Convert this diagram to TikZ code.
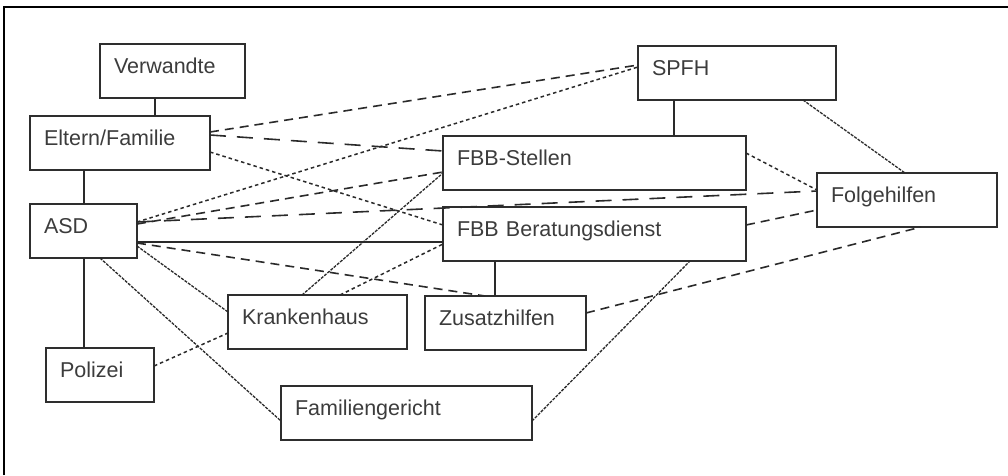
\documentclass[tikz,border=0pt]{standalone}
\usepackage{fontspec}
\setmainfont{Liberation Sans}
\definecolor{boxline}{HTML}{2E2E2E}
\definecolor{boxtext}{HTML}{3C3C3C}
\definecolor{linkline}{HTML}{2A2A2A}
\begin{document}
\begin{tikzpicture}[x=1pt,y=-1pt,
  box/.style={draw=boxline, line width=2pt, outer sep=0pt, anchor=north west,
    inner xsep=14pt, inner ysep=0pt, text height=29pt, text depth=25pt,
    align=left, text=boxtext, font=\fontsize{21.5pt}{26pt}\selectfont},
  link/.style={draw=linkline, line width=1.4pt},
  plain/.style={link, line width=1.3pt},
  mediumdash/.style={link, line width=1.6pt, dash pattern=on 9pt off 6pt},
  longdash/.style={link, line width=1.6pt, dash pattern=on 16pt off 11pt},
  dotline/.style={link, line width=1.5pt, dash pattern=on 3.5pt off 3pt},
  fineline/.style={link, line width=1.3pt, dash pattern=on 3pt off 1.2pt}]

\useasboundingbox (0,0) rectangle (1008,475);

% frame
\draw[line width=2.5pt, black] (4,475) -- (4,7) -- (1008,7);

% boxes
\node[box, text width=117pt] (ver) at (100,44)  {Verwandte};
\node[box, text width=152pt] (elt) at (30,116)  {Eltern/Familie};
\node[box, text width=79pt]  (asd) at (30,204)  {ASD};
\node[box, text width=80pt]  (pol) at (46,348)  {Polizei};
\node[box, text width=151pt] (kra) at (228,295) {Krankenhaus};
\node[box, text width=223pt] (fam) at (281,386) {Familiengericht};
\node[box, text width=133pt] (zus) at (425,296) {Zusatzhilfen};
\node[box, text width=275pt] (fbs) at (443,136) {FBB-Stellen};
\node[box, text width=275pt] (fbb) at (443,207) {FBB Beratungsdienst};
\node[box, text width=170pt] (spf) at (638,46)  {SPFH};
\node[box, text width=152pt] (fol) at (817,173) {Folgehilfen};

% solid connectors
\draw[plain] ([xshift=55pt]ver.south west) -- ([xshift=125pt]elt.north west);
\draw[plain] ([xshift=54pt]elt.south west) -- ([xshift=54pt]asd.north west);
\draw[plain] ([xshift=54pt]asd.south west) -- ([xshift=38pt]pol.north west);
\draw[plain] ([xshift=36pt]spf.south west) -- ([xshift=231pt]fbs.north west);
\draw[plain] ([xshift=52pt]fbb.south west) -- ([xshift=70pt]zus.north west);
\draw[link, line width=2pt] ([yshift=-38pt]asd.north east) -- ([yshift=-35pt]fbb.north west);

% medium dashed connectors
\draw[mediumdash] ([yshift=-16pt]elt.north east) -- ([yshift=-19pt]spf.north west);
\draw[mediumdash] ([yshift=-20pt]asd.north east) -- ([yshift=-36pt]fbs.north west);
\draw[mediumdash] ([yshift=-39pt]asd.north east) -- ([xshift=60pt]zus.north west);
\draw[mediumdash] ([yshift=-18pt]fbb.north east) -- ([yshift=-37pt]fol.north west);
\draw[mediumdash] ([yshift=-17pt]zus.north east) -- ([xshift=104pt]fol.south west);

% long dashed connectors
\draw[longdash] ([yshift=-19pt]elt.north east) -- ([yshift=-15pt]fbs.north west);
\draw[longdash] ([yshift=-18pt]asd.north east) -- ([yshift=-18pt]fol.north west);

% dotted connectors
\draw[dotline] ([yshift=-36pt]elt.north east) -- ([yshift=-18pt]fbb.north west);
\draw[dotline] ([yshift=-18pt]asd.north east) -- ([yshift=-21pt]spf.north west);
\draw[dotline] ([yshift=-18pt]pol.north east) -- ([yshift=-38pt]kra.north west);
\draw[dotline] ([xshift=112pt]kra.north west) -- ([yshift=-37pt]fbb.north west);
\draw[dotline] ([yshift=-17pt]fbs.north east) -- ([yshift=-17pt]fol.north west);

% fine connectors
\draw[fineline] ([yshift=-42pt]asd.north east) -- ([yshift=-17pt]kra.north west);
\draw[fineline] ([xshift=70pt]asd.south west) -- ([yshift=-35pt]fam.north west);
\draw[fineline] ([xshift=74pt]kra.north west) -- ([yshift=-37pt]fbs.north west);
\draw[fineline] ([xshift=165pt]spf.south west) -- ([xshift=88pt]fol.north west);
\draw[fineline] ([yshift=-35pt]fam.north east) -- ([xshift=247pt]fbb.south west);

\end{tikzpicture}
\end{document}
